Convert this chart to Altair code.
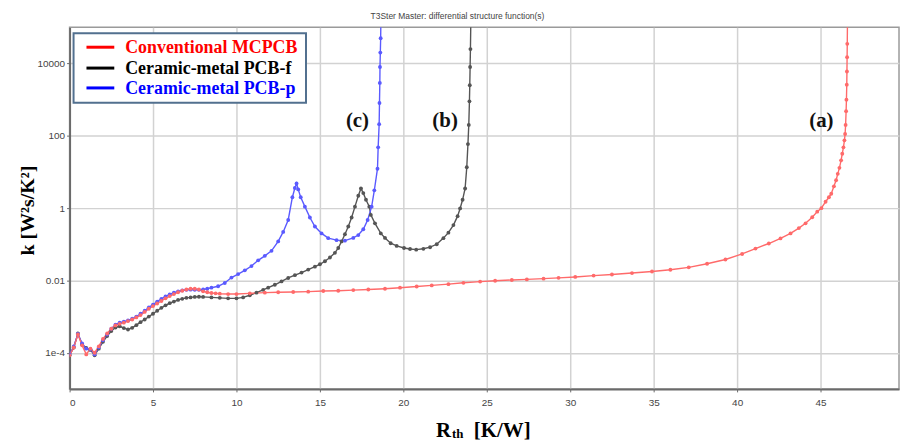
import altair as alt
import pandas as pd

series_names = ["Conventional MCPCB", "Ceramic-metal PCB-f", "Ceramic-metal PCB-p"]
dot_colors = ["#ff0000", "#000000", "#0000ff"]
line_colors = ["#ff6a6a", "#555555", "#5a5aff"]

# Conventional MCPCB (a)
red_x = [0.0, 0.25, 0.5, 0.75, 1.0, 1.25, 1.5, 1.75, 2.0, 2.25, 2.5, 2.75, 3.0, 3.25, 3.5, 3.75,
         4.0, 4.25, 4.5, 4.75, 5.0, 5.25, 5.5, 5.75, 6.0, 6.25, 6.5, 6.75, 7.0, 7.25, 7.5, 7.75,
         8.0, 8.25, 8.5, 8.75, 9.0, 9.5, 10.0, 10.8, 11.7, 12.5, 13.4, 14.3, 15.2, 16.1, 17.0,
         17.9, 18.9, 19.8, 20.8, 21.7, 22.7, 23.6, 24.6, 25.5, 26.5, 27.4, 28.4, 29.3, 30.3,
         31.4, 32.5, 33.7, 34.9, 36.0, 37.1, 38.2, 39.3, 40.3, 41.1, 41.9, 42.6, 43.2, 43.7,
         44.1, 44.5, 44.8, 45.05, 45.3, 45.5, 45.64, 45.8, 45.93, 46.03, 46.13, 46.23, 46.3,
         46.37, 46.43, 46.47, 46.5, 46.53, 46.55, 46.57, 46.58, 46.59, 46.6, 46.61]
red_k = [8.5e-5, 1.4e-4, 3.2e-4, 1.6e-4, 9.0e-5, 1.3e-4, 1.0e-4, 1.5e-4, 2.4e-4, 3.4e-4, 4.6e-4,
         5.7e-4, 6.3e-4, 6.8e-4, 7.5e-4, 8.3e-4, 9.5e-4, 1.1e-3, 1.35e-3, 1.65e-3, 1.95e-3, 2.3e-3,
         2.7e-3, 3.2e-3, 3.7e-3, 4.2e-3, 4.7e-3, 5.2e-3, 5.6e-3, 5.9e-3, 5.9e-3, 5.6e-3, 5.0e-3,
         4.7e-3, 4.5e-3, 4.4e-3, 4.3e-3, 4.2e-3, 4.2e-3, 4.4e-3, 4.6e-3, 4.7e-3, 4.8e-3, 4.9e-3,
         5.1e-3, 5.2e-3, 5.4e-3, 5.6e-3, 5.9e-3, 6.3e-3, 6.8e-3, 7.3e-3, 7.9e-3, 8.6e-3, 9.3e-3,
         9.8e-3, 1.03e-2, 1.07e-2, 1.12e-2, 1.18e-2, 1.25e-2, 1.36e-2, 1.46e-2, 1.6e-2, 1.77e-2,
         1.98e-2, 2.3e-2, 2.9e-2, 3.8e-2, 5.4e-2, 7.6e-2, 0.105, 0.145, 0.2, 0.28, 0.38, 0.56, 0.8,
         1.0, 1.5, 2.0, 2.5, 4.0, 5.9, 8.9, 13, 21, 32, 48, 75, 112, 200, 480, 1000, 2600, 6000,
         1.5e4, 3.5e4, 1.2e5]

# Ceramic-metal PCB-f (b)
black_x = [0.0, 0.25, 0.5, 0.75, 1.0, 1.25, 1.5, 1.75, 2.0, 2.25, 2.5, 2.75, 3.0, 3.25, 3.5, 3.75,
           4.0, 4.25, 4.5, 4.75, 5.0, 5.25, 5.5, 5.75, 6.0, 6.25, 6.5, 6.75, 7.0, 7.25, 7.5, 7.75,
           8.0, 8.5, 9.0, 9.5, 10.0, 10.4, 10.8, 11.2, 11.6, 11.9, 12.3, 12.7, 13.1, 13.5, 13.9,
           14.3, 14.7, 15.0, 15.3, 15.6, 15.9, 16.1, 16.3, 16.5, 16.7, 16.9, 17.1, 17.3, 17.46,
           17.6, 17.76, 17.96, 18.05, 18.3, 18.65, 18.9, 19.24, 19.6, 20.04, 20.4, 20.77, 21.2,
           21.6, 22.0, 22.4, 22.7, 23.0, 23.25, 23.4, 23.55, 23.7, 23.8, 23.87, 23.92, 23.96,
           23.98, 24.0, 24.02, 24.04]
black_k = [8.5e-5, 1.4e-4, 3.4e-4, 1.7e-4, 1.35e-4, 1.2e-4, 8.5e-5, 1.3e-4, 2.0e-4, 2.9e-4,
           4.0e-4, 5.0e-4, 5.4e-4, 4.8e-4, 4.4e-4, 4.9e-4, 5.8e-4, 7.0e-4, 8.3e-4, 1.0e-3, 1.2e-3,
           1.45e-3, 1.75e-3, 2.05e-3, 2.35e-3, 2.6e-3, 2.9e-3, 3.1e-3, 3.3e-3, 3.4e-3, 3.5e-3,
           3.55e-3, 3.5e-3, 3.4e-3, 3.3e-3, 3.2e-3, 3.2e-3, 3.4e-3, 3.9e-3, 4.6e-3, 5.5e-3, 6.3e-3,
           7.6e-3, 9.4e-3, 1.17e-2, 1.4e-2, 1.65e-2, 2.0e-2, 2.4e-2, 2.8e-2, 3.4e-2, 4.3e-2, 5.8e-2,
           7.9e-2, 0.12, 0.19, 0.31, 0.55, 1.1, 2.2, 3.5, 2.6, 1.7, 1.1, 0.65, 0.38, 0.2, 0.15,
           0.107, 0.09, 0.079, 0.074, 0.071, 0.075, 0.083, 0.1, 0.148, 0.21, 0.34, 0.6, 0.98, 1.7,
           3.5, 13.5, 59, 200, 900, 2500, 8000, 2.5e4, 1.2e5]

# Ceramic-metal PCB-p (c)
blue_x = [0.0, 0.25, 0.5, 0.75, 1.0, 1.25, 1.5, 1.75, 2.0, 2.25, 2.5, 2.75, 3.0, 3.25, 3.5, 3.75,
          4.0, 4.25, 4.5, 4.75, 5.0, 5.25, 5.5, 5.75, 6.0, 6.25, 6.5, 6.75, 7.0, 7.25, 7.5, 7.75,
          8.0, 8.25, 8.5, 8.9, 9.3, 9.7, 10.1, 10.5, 10.9, 11.3, 11.7, 12.1, 12.5, 12.8, 13.1,
          13.35, 13.5, 13.6, 13.7, 13.85, 14.1, 14.4, 14.7, 15.1, 15.5, 16.0, 16.5, 17.0, 17.3,
          17.6, 17.86, 18.1, 18.26, 18.45, 18.49, 18.55, 18.57, 18.59, 18.6, 18.62, 18.64, 18.65]
blue_k = [9.0e-5, 1.5e-4, 3.3e-4, 1.8e-4, 1.3e-4, 1.25e-4, 9.0e-5, 1.4e-4, 2.2e-4, 3.2e-4, 4.6e-4,
          6.0e-4, 6.8e-4, 7.2e-4, 7.8e-4, 8.7e-4, 1.0e-3, 1.2e-3, 1.45e-3, 1.8e-3, 2.15e-3, 2.6e-3,
          3.1e-3, 3.6e-3, 4.1e-3, 4.6e-3, 5.0e-3, 5.3e-3, 5.5e-3, 5.55e-3, 5.5e-3, 5.5e-3, 5.6e-3,
          5.9e-3, 6.3e-3, 6.9e-3, 8.5e-3, 1.2e-2, 1.5e-2, 1.9e-2, 2.5e-2, 3.6e-2, 4.8e-2, 6.6e-2,
          0.12, 0.22, 0.47, 2.0, 3.6, 4.8, 3.3, 2.0, 1.1, 0.55, 0.31, 0.2, 0.148, 0.13, 0.126,
          0.15, 0.18, 0.26, 0.47, 1.1, 3.1, 12.3, 48, 210, 810, 2900, 8000, 2.0e4, 5.0e4, 1.2e5]

y_ticks = [1e-4, 1e-2, 1, 100, 1e4]
x_ticks = [0, 5, 10, 15, 20, 25, 30, 35, 40, 45, 50]

annot_labels = ["(c)", "(b)", "(a)"]
annot_x = [17.25, 22.5, 45.05]
annot_k = [260, 260, 260]

rows = []
for name, xs, ks in [(series_names[1], black_x, black_k),
                     (series_names[2], blue_x, blue_k),
                     (series_names[0], red_x, red_k)]:
    for i, (xv, kv) in enumerate(zip(xs, ks)):
        rows.append({"series": name, "x": xv, "k": kv, "i": i})
df = pd.DataFrame(rows)

xscale = alt.Scale(domain=[0, 49.7], nice=False, zero=False)
yscale = alt.Scale(type="log", domain=[1e-5, 1e5], nice=False)

xaxis = alt.Axis(values=x_ticks, title=None, grid=True, gridColor="#d2d2d2", gridWidth=1.5,
                 domainColor="#6a6a6a", domainWidth=2, tickColor="#6a6a6a", tickSize=3,
                 labelFont="Liberation Sans", labelFontSize=10, labelColor="#444444",
                 labelPadding=6)
yaxis = alt.Axis(values=y_ticks, grid=True, gridColor="#d2d2d2", gridWidth=1.5,
                 domainColor="#6a6a6a", domainWidth=2, tickColor="#6a6a6a", tickSize=3,
                 labelFont="Liberation Sans", labelFontSize=10, labelColor="#444444",
                 labelPadding=2,
                 labelExpr="datum.value < 0.001 ? '1e-4' : datum.value < 0.1 ? '0.01' : format(datum.value, 'd')",
                 title="k [W²s/K²]", titleFont="Liberation Serif", titleFontSize=20,
                 titleFontWeight="bold", titleColor="#000000", titleX=-42, titleY=184,
                 titleAngle=270, titleAlign="center", titleBaseline="middle")

base = alt.Chart(df)
lines = base.mark_line(strokeWidth=1.4, clip=True).encode(
    x=alt.X("x:Q", scale=xscale, axis=xaxis),
    y=alt.Y("k:Q", scale=yscale, axis=yaxis),
    color=alt.Color("series:N", scale=alt.Scale(domain=series_names, range=line_colors), legend=None),
    detail="series:N",
    order=alt.Order("i:Q"),
)
points = base.mark_point(filled=True, size=15, opacity=1, clip=True).encode(
    x=alt.X("x:Q", scale=xscale),
    y=alt.Y("k:Q", scale=yscale),
    color=alt.Color("series:N", scale=alt.Scale(domain=series_names, range=dot_colors), legend=None),
)

annots = alt.Chart(pd.DataFrame({"label": annot_labels, "x": annot_x, "k": annot_k})).mark_text(
    font="Liberation Serif", fontSize=21, fontWeight="bold", color="#111111", baseline="middle"
).encode(x=alt.X("x:Q", scale=xscale), y=alt.Y("k:Q", scale=yscale), text="label:N")

title = alt.Chart(pd.DataFrame({"t": ["T3Ster Master: differential structure function(s)"]})).mark_text(
    font="Liberation Sans", fontSize=8.5, color="#444444", align="left", baseline="middle"
).encode(x=alt.value(303), y=alt.value(-11), text="t:N")

# legend box
legend_box = alt.Chart(pd.DataFrame({"a": [0]})).mark_rect(
    fill="white", stroke="#52708f", strokeWidth=2
).encode(x=alt.value(4), x2=alt.value(238), y=alt.value(6), y2=alt.value(76))

legend_layers = []
legend_y = [20, 41, 61]
for name, col, ly in zip(series_names, dot_colors, legend_y):
    legend_layers.append(
        alt.Chart(pd.DataFrame({"a": [0]})).mark_rule(color=col, strokeWidth=3).encode(
            x=alt.value(17), x2=alt.value(45), y=alt.value(ly))
    )
    legend_layers.append(
        alt.Chart(pd.DataFrame({"t": [name]})).mark_text(
            font="Liberation Serif", fontSize=18, fontWeight="bold", color=col,
            align="left", baseline="middle"
        ).encode(x=alt.value(56), y=alt.value(ly + 1), text="t:N")
    )

# x-axis title with subscript
xt_R = alt.Chart(pd.DataFrame({"t": ["R"]})).mark_text(
    font="Liberation Serif", fontSize=21, fontWeight="bold", color="#000000",
    align="left", baseline="alphabetic").encode(x=alt.value(369), y=alt.value(412), text="t:N")
xt_sub = alt.Chart(pd.DataFrame({"t": ["th"]})).mark_text(
    font="Liberation Serif", fontSize=13, fontWeight="bold", color="#000000",
    align="left", baseline="alphabetic").encode(x=alt.value(385), y=alt.value(413), text="t:N")
xt_unit = alt.Chart(pd.DataFrame({"t": ["[K/W]"]})).mark_text(
    font="Liberation Serif", fontSize=21, fontWeight="bold", color="#000000",
    align="left", baseline="alphabetic").encode(x=alt.value(407), y=alt.value(412), text="t:N")

chart = alt.layer(
    lines, points, annots, title, legend_box, *legend_layers, xt_R, xt_sub, xt_unit
).properties(
    width=835, height=364,
    autosize=alt.AutoSizeParams(type="none"),
    padding={"left": 62, "top": 18, "right": 1, "bottom": 56},
    background="white",
).configure_view(stroke="#9a9a9a", strokeWidth=1.5)

chart.save("out.html", embed_options={"renderer": "svg", "actions": False})
